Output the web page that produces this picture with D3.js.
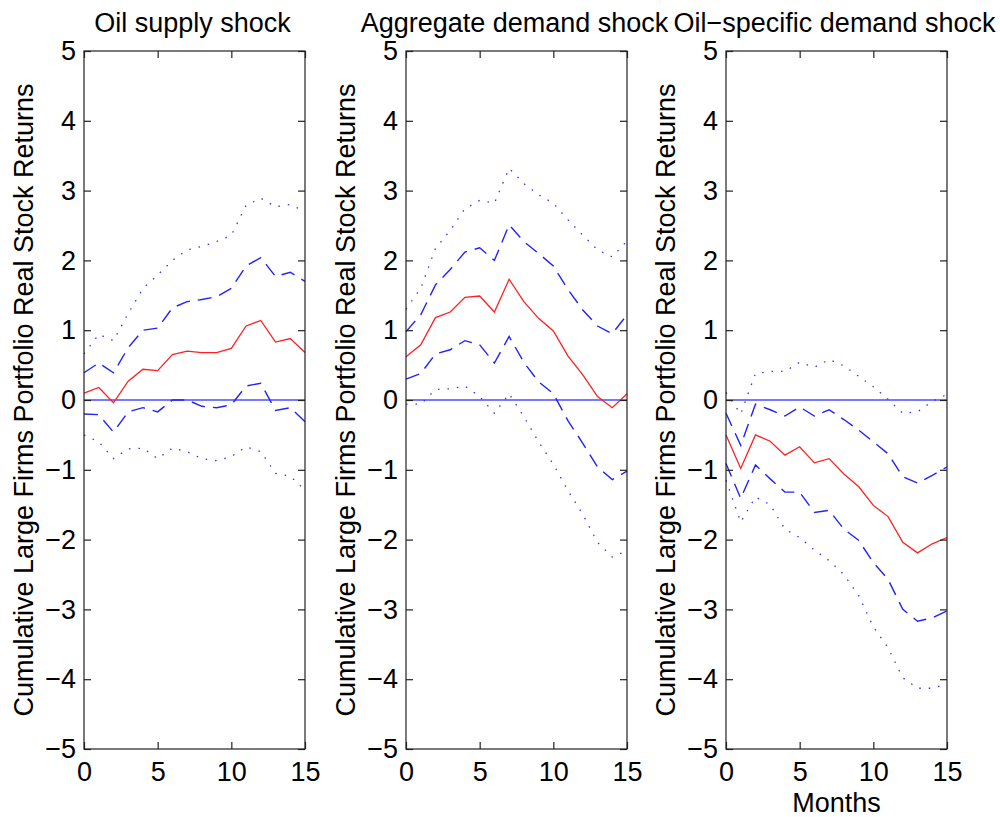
<!DOCTYPE html>
<html>
<head>
<meta charset="utf-8">
<script src="https://cdn.jsdelivr.net/npm/d3@7"></script>
<style>
  body { margin: 0; background: #fff; }
  svg text { font-family: "Liberation Sans", Arial, sans-serif; fill: #000; }
</style>
</head>
<body>
<div class="chart"></div>
<script>
var months = d3.range(0, 16);
var titles = ["Oil supply shock", "Aggregate demand shock", "Oil\u2212specific demand shock"];
var yLabel = "Cumulative Large Firms Portfolio Real Stock Returns";
var xTicks = [0, 5, 10, 15];
var yTicks = [-5, -4, -3, -2, -1, 0, 1, 2, 3, 4, 5];

// oil supply shock
var supplyIrf = [0.10, 0.18, -0.04, 0.27, 0.44, 0.42, 0.65, 0.70, 0.68, 0.68, 0.74, 1.06, 1.14, 0.83, 0.88, 0.68];
var supplyUpDash = [0.39, 0.53, 0.39, 0.75, 1.00, 1.03, 1.32, 1.41, 1.44, 1.48, 1.60, 1.92, 2.04, 1.77, 1.83, 1.70];
var supplyLoDash = [-0.20, -0.21, -0.46, -0.17, -0.11, -0.17, 0.00, 0.00, -0.09, -0.11, -0.07, 0.20, 0.24, -0.15, -0.11, -0.31];
var supplyUpDot = [0.66, 0.94, 0.85, 1.24, 1.60, 1.79, 2.00, 2.15, 2.20, 2.27, 2.36, 2.79, 2.89, 2.77, 2.80, 2.70];
var supplyLoDot = [-0.50, -0.60, -0.84, -0.70, -0.69, -0.84, -0.69, -0.74, -0.84, -0.87, -0.81, -0.67, -0.74, -1.05, -1.09, -1.29];

// aggregate demand shock
var aggIrf = [0.62, 0.79, 1.18, 1.26, 1.47, 1.49, 1.26, 1.73, 1.41, 1.17, 0.99, 0.63, 0.36, 0.05, -0.11, 0.09];
var aggUpDash = [0.98, 1.22, 1.65, 1.87, 2.12, 2.18, 2.00, 2.51, 2.27, 2.10, 1.92, 1.58, 1.29, 1.06, 0.95, 1.22];
var aggLoDash = [0.30, 0.38, 0.66, 0.72, 0.85, 0.79, 0.53, 0.91, 0.54, 0.26, 0.09, -0.30, -0.62, -0.96, -1.14, -1.02];
var aggUpDot = [1.30, 1.60, 2.17, 2.43, 2.74, 2.86, 2.82, 3.32, 3.10, 2.94, 2.82, 2.58, 2.36, 2.15, 2.05, 2.28];
var aggLoDot = [-0.06, -0.06, 0.15, 0.16, 0.20, 0.05, -0.19, 0.09, -0.24, -0.60, -0.92, -1.30, -1.64, -2.04, -2.25, -2.16];

// oil-specific demand shock
var oilIrf = [-0.50, -0.98, -0.50, -0.59, -0.79, -0.67, -0.90, -0.84, -1.06, -1.24, -1.51, -1.67, -2.04, -2.19, -2.06, -1.97];
var oilUpDash = [-0.19, -0.65, -0.06, -0.14, -0.23, -0.10, -0.23, -0.14, -0.28, -0.43, -0.60, -0.77, -1.10, -1.19, -1.08, -0.96];
var oilLoDash = [-0.91, -1.41, -0.93, -1.13, -1.32, -1.32, -1.61, -1.58, -1.85, -2.01, -2.33, -2.57, -3.00, -3.17, -3.12, -3.02];
var oilUpDot = [0.11, -0.20, 0.38, 0.41, 0.41, 0.54, 0.47, 0.58, 0.49, 0.34, 0.19, 0.01, -0.19, -0.17, -0.02, 0.08];
var oilLoDot = [-1.15, -1.75, -1.39, -1.50, -1.85, -1.97, -2.15, -2.30, -2.50, -2.80, -3.25, -3.55, -3.98, -4.13, -4.13, -4.07];

var panels = [
    { irf: supplyIrf, upDash: supplyUpDash, loDash: supplyLoDash, upDot: supplyUpDot, loDot: supplyLoDot },
    { irf: aggIrf, upDash: aggUpDash, loDash: aggLoDash, upDot: aggUpDot, loDot: aggLoDot },
    { irf: oilIrf, upDash: oilUpDash, loDash: oilLoDash, upDot: oilUpDot, loDot: oilLoDot }
];

var W = 1000, H = 817;
var lefts = [84, 406, 726];
var pw = 221;
var plotTop = 51, plotBottom = 749;
var tickLen = 7;
var fontSize = 27;

var svg = d3.select('.chart')
    .append('svg')
    .attr('width', W)
    .attr('height', H);

svg.append('rect').attr('width', W).attr('height', H).attr('fill', '#fff');

var yScale = d3.scaleLinear().domain([-5, 5]).range([plotBottom, plotTop]);

function fmt(v) {
    return v < 0 ? '\u2212' + Math.abs(v) : String(v);
}

panels.forEach(function (p, i) {
    var x0 = lefts[i];
    var xScale = d3.scaleLinear().domain([0, 15]).range([x0, x0 + pw]);

    var g = svg.append('g');

    // zero line
    g.append('line')
        .attr('x1', xScale(0)).attr('x2', xScale(15))
        .attr('y1', yScale(0)).attr('y2', yScale(0))
        .attr('stroke', '#4d4dff').attr('stroke-width', 1.6);

    var line = d3.line()
        .x(function (d, j) { return xScale(months[j]); })
        .y(function (d) { return yScale(d); });

    var series = [
        { data: p.upDot, color: '#3333ff', dash: '1.5,8', w: 1.3 },
        { data: p.loDot, color: '#3333ff', dash: '1.5,8', w: 1.3 },
        { data: p.upDash, color: '#2222ff', dash: '14,8', w: 1.4 },
        { data: p.loDash, color: '#2222ff', dash: '14,8', w: 1.4 },
        { data: p.irf, color: '#ff2020', dash: null, w: 1.3 }
    ];

    series.forEach(function (s) {
        g.append('path')
            .datum(s.data)
            .attr('d', line)
            .attr('fill', 'none')
            .attr('stroke', s.color)
            .attr('stroke-width', s.w)
            .attr('stroke-dasharray', s.dash);
    });

    // box
    g.append('rect')
        .attr('x', xScale(0)).attr('y', plotTop)
        .attr('width', pw).attr('height', plotBottom - plotTop)
        .attr('fill', 'none').attr('stroke', '#222').attr('stroke-width', 1.2);

    // inward ticks on all four sides
    var yAxisL = d3.axisLeft(yScale).tickValues(yTicks).tickSize(-tickLen).tickPadding(8).tickFormat(fmt);
    var yAxisR = d3.axisRight(yScale).tickValues(yTicks).tickSize(-tickLen).tickFormat('');
    var xAxisB = d3.axisBottom(xScale).tickValues(xTicks).tickSize(-tickLen).tickPadding(13).tickFormat(fmt);
    var xAxisT = d3.axisTop(xScale).tickValues(xTicks).tickSize(-tickLen).tickFormat('');

    var axes = [
        g.append('g').attr('transform', 'translate(' + xScale(0) + ',0)').call(yAxisL),
        g.append('g').attr('transform', 'translate(' + xScale(15) + ',0)').call(yAxisR),
        g.append('g').attr('transform', 'translate(0,' + plotBottom + ')').call(xAxisB),
        g.append('g').attr('transform', 'translate(0,' + plotTop + ')').call(xAxisT)
    ];
    axes.forEach(function (a) {
        a.select('.domain').remove();
        a.selectAll('line').attr('stroke', '#222').attr('stroke-width', 1.2);
        a.selectAll('text').attr('font-size', fontSize).attr('fill', '#000')
            .style('font-family', '"Liberation Sans", Arial, sans-serif');
    });

    // title
    g.append('text')
        .attr('x', xScale(7.5) - 2)
        .attr('y', 32)
        .attr('text-anchor', 'middle')
        .attr('font-size', fontSize)
        .text(titles[i]);

    // y label
    g.append('text')
        .attr('transform', 'translate(' + (x0 - 51) + ',' + yScale(0) + ') rotate(-90)')
        .attr('text-anchor', 'middle')
        .attr('font-size', fontSize)
        .text(yLabel);

    if (i === 2) {
        g.append('text')
            .attr('x', xScale(7.5))
            .attr('y', 812)
            .attr('text-anchor', 'middle')
            .attr('font-size', fontSize)
            .text('Months');
    }
});
</script>
</body>
</html>
